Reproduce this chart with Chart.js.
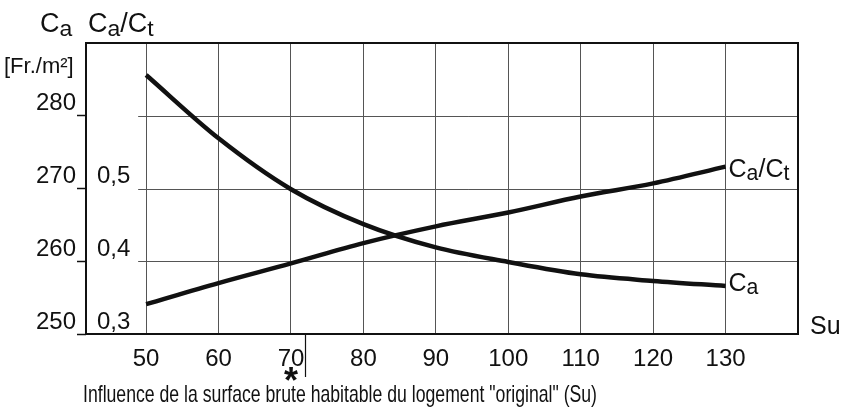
<!DOCTYPE html>
<html>
<head>
<meta charset="utf-8">
<script src="https://cdn.jsdelivr.net/npm/chart.js@4.4.0/dist/chart.umd.min.js"></script>
<style>
  html, body { margin: 0; padding: 0; background: #fff; }
  #wrap { width: 841px; height: 409px; }
</style>
</head>
<body>
<div id="wrap"><canvas id="suChart" width="841" height="409"></canvas></div>
<script>
// Su (surface brute habitable, m2) along the bottom axis
const suValues = [50, 60, 70, 80, 90, 100, 110, 120, 130];
// C_a in Fr./m2 (left scale)
const caValues = [285.6, 276.9, 269.9, 265.1, 261.9, 259.9, 258.2, 257.3, 256.6];
// C_a / C_t ratio (inner scale)
const ratioValues = [0.341, 0.370, 0.397, 0.425, 0.448, 0.467, 0.489, 0.507, 0.530];

// tick labels
const xTicks = [50, 60, 70, 80, 90, 100, 110, 120, 130];
const caTicks = [250, 260, 270, 280, 290];
const ratioTicks = [0.3, 0.4, 0.5];
const markedSu = 72;   // the "original" dwelling, marked with *

const FONT = "'Liberation Sans', Arial, sans-serif";
const INK = '#111';

// text with lowered subscripts, e.g. C + a
function drawParts(ctx, parts, x, y, size) {
    let cx = x;
    parts.forEach(([t, sub]) => {
        const s = sub ? size * 0.85 : size;
        ctx.font = s + 'px ' + FONT;
        ctx.fillText(t, cx, sub ? y + size * 0.14 : y);
        cx += ctx.measureText(t).width;
    });
}

const paperPlugin = {
    id: 'paper',
    beforeDatasetsDraw(chart) {
        const { ctx, chartArea: a, scales: { x, y } } = chart;
        ctx.save();
        // horizontal grid starts just left of the 50 line
        ctx.strokeStyle = '#555';
        ctx.lineWidth = 1;
        const x0 = x.getPixelForValue(48.9);
        caTicks.slice(1, -1).forEach(v => {
            const py = Math.round(y.getPixelForValue(v)) + 0.5;
            ctx.beginPath();
            ctx.moveTo(x0, py);
            ctx.lineTo(a.right, py);
            ctx.stroke();
        });
        // frame
        ctx.strokeStyle = INK;
        ctx.lineWidth = 2;
        ctx.strokeRect(a.left, a.top, a.right - a.left, a.bottom - a.top);
        // marker below the axis
        const mx = Math.round(x.getPixelForValue(markedSu)) + 0.5;
        ctx.lineWidth = 1.2;
        ctx.beginPath();
        ctx.moveTo(mx, a.bottom);
        ctx.lineTo(mx, a.bottom + 43);
        ctx.stroke();
        ctx.restore();
    },
    afterDraw(chart) {
        const { ctx, chartArea: a, scales: { x, y, y1 } } = chart;
        ctx.save();
        ctx.fillStyle = INK;
        ctx.textBaseline = 'alphabetic';
        ctx.textAlign = 'left';

        // axis titles, top left
        drawParts(ctx, [['C', false], ['a', true]], 40, 32, 27);
        drawParts(ctx, [['C', false], ['a', true], ['/C', false], ['t', true]], 88, 32, 27);
        ctx.font = '22px ' + FONT;
        ctx.fillText('[Fr./m²]', 4, 73);

        // curve labels
        const lastX = x.getPixelForValue(suValues[suValues.length - 1]) + 3;
        const ratioY = y1.getPixelForValue(ratioValues[ratioValues.length - 1]);
        const caY = y.getPixelForValue(caValues[caValues.length - 1]);
        drawParts(ctx, [['C', false], ['a', true], ['/C', false], ['t', true]], lastX, ratioY + 10, 25);
        drawParts(ctx, [['C', false], ['a', true]], lastX, caY + 5, 25);

        // x axis name
        ctx.font = '25px ' + FONT;
        ctx.fillText('Su', a.right + 12, a.bottom);

        // caption, squeezed to the lettering width
        const caption = 'Influence de la surface brute habitable du logement "original" (Su)';
        ctx.font = '24px ' + FONT;
        const w = ctx.measureText(caption).width;
        ctx.save();
        ctx.translate(83, 402);
        ctx.scale(514 / w, 1);
        ctx.fillText(caption, 0, 0);
        ctx.restore();

        // asterisk
        ctx.font = 'bold 36px ' + FONT;
        ctx.textAlign = 'center';
        ctx.fillText('*', x.getPixelForValue(70), 393);
        ctx.restore();
    }
};

const dataCa = suValues.map((s, i) => ({ x: s, y: caValues[i] }));
const dataRatio = suValues.map((s, i) => ({ x: s, y: ratioValues[i] }));

new Chart(document.getElementById('suChart'), {
    type: 'line',
    data: {
        datasets: [{
            label: 'Ca',
            data: dataCa,
            yAxisID: 'y',
            borderColor: INK,
            borderWidth: 4.5,
            pointRadius: 0,
            cubicInterpolationMode: 'monotone',
            fill: false
        }, {
            label: 'Ca/Ct',
            data: dataRatio,
            yAxisID: 'y1',
            borderColor: INK,
            borderWidth: 4.5,
            pointRadius: 0,
            cubicInterpolationMode: 'monotone',
            fill: false
        }]
    },
    options: {
        responsive: false,
        animation: false,
        layout: { padding: { left: 0, right: 43, top: 43, bottom: 0 } },
        plugins: {
            legend: { display: false },
            tooltip: { enabled: false }
        },
        scales: {
            x: {
                type: 'linear',
                min: 41.7,
                max: 140,
                afterBuildTicks: s => { s.ticks = xTicks.map(v => ({ value: v })); },
                afterFit: s => { s.height = 75; },
                grid: { color: '#555', lineWidth: 1, drawTicks: false },
                border: { display: false },
                ticks: { color: INK, padding: 11, font: { family: FONT, size: 24 } }
            },
            y: {
                position: 'left',
                weight: 1,
                min: 250,
                max: 290,
                afterBuildTicks: s => { s.ticks = caTicks.map(v => ({ value: v })); },
                afterFit: s => { s.width = 86; },
                grid: {
                    drawOnChartArea: false,
                    drawTicks: true,
                    tickLength: 9,
                    tickWidth: 1.5,
                    tickColor: c => (c.tick && c.tick.value === 290) ? 'rgba(0,0,0,0)' : INK
                },
                border: { display: false },
                ticks: {
                    color: INK,
                    padding: 1,
                    font: { family: FONT, size: 24, lineHeight: 1 },
                    callback: v => v === 290 ? '' : [String(v), '']
                }
            },
            y1: {
                position: 'left',
                weight: 0,
                min: 0.3,
                max: 0.7,
                afterBuildTicks: s => { s.ticks = ratioTicks.map(v => ({ value: v })); },
                afterFit: s => { s.width = 0; },
                grid: { display: false, drawTicks: false },
                border: { display: false },
                ticks: {
                    mirror: true,
                    color: INK,
                    padding: 11,
                    font: { family: FONT, size: 24, lineHeight: 1 },
                    callback: v => [v.toFixed(1).replace('.', ','), '']
                }
            }
        }
    },
    plugins: [paperPlugin]
});
</script>
</body>
</html>
